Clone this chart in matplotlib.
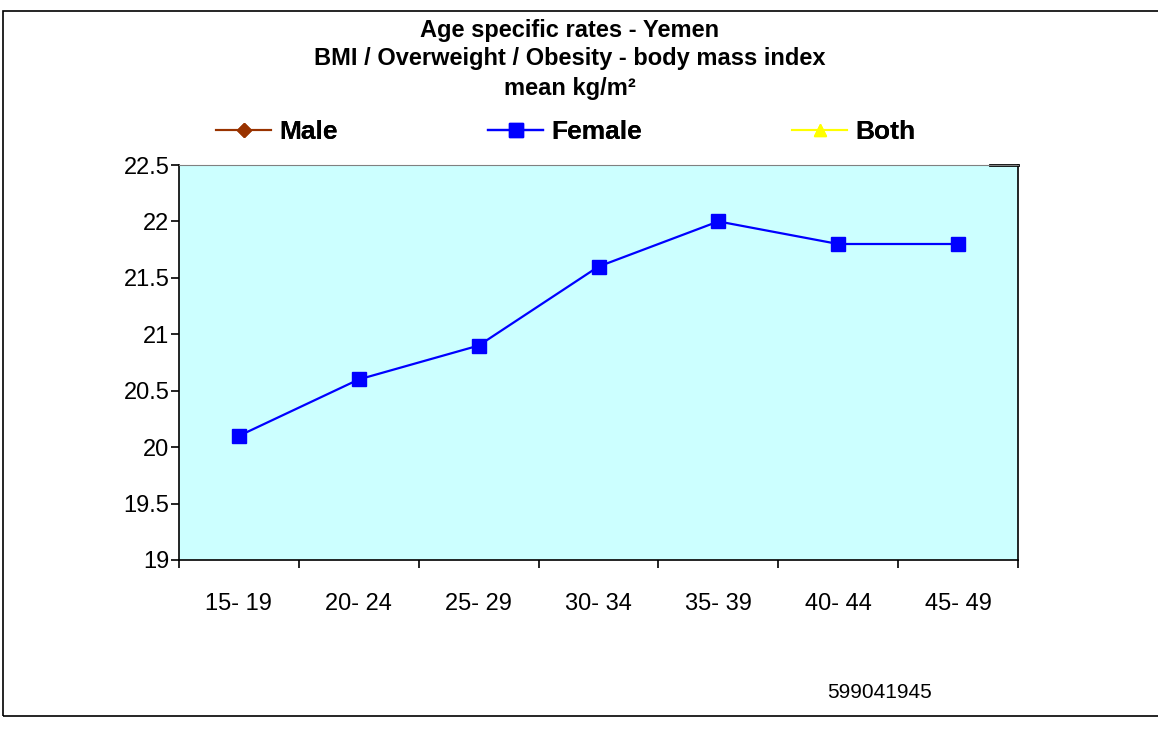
import matplotlib.pyplot as plt
from matplotlib.patches import Rectangle

plt.rcParams['font.family'] = ['Liberation Sans', 'DejaVu Sans']

# Daten
age_groups = ['15- 19', '20- 24', '25- 29', '30- 34', '35- 39', '40- 44', '45- 49']
female = [20.1, 20.6, 20.9, 21.6, 22.0, 21.8, 21.8]
male = []
both = []
y_ticks = [19, 19.5, 20, 20.5, 21, 21.5, 22, 22.5]
y_labels = ['19', '19.5', '20', '20.5', '21', '21.5', '22', '22.5']

W, H = 1158, 729
fig = plt.figure(figsize=(W / 100, H / 100), dpi=100)

# Rahmen um das ganze Bild
fig.add_artist(Rectangle((3 / W, 1 - 716 / H), 1.2, (716 - 11) / H,
                         transform=fig.transFigure, fill=False, edgecolor='black', lw=1.2))

ax = fig.add_axes([179 / W, 1 - 560 / H, (1018 - 179) / W, (560 - 165) / H])
ax.set_facecolor('#ccffff')

x = list(range(len(age_groups)))
h_male, = ax.plot(male, male, color='#993300', marker='D', markersize=7, lw=1.5, label='Male')
h_female, = ax.plot(x, female, color='#0000ff', marker='s', markersize=10, lw=1.6, label='Female')
h_both, = ax.plot(both, both, color='#ffff00', marker='^', markersize=9, lw=1.5, label='Both')

ax.set_xlim(-0.5, len(age_groups) - 0.5)
ax.set_ylim(19, 22.5)
ax.set_yticks(y_ticks)
ax.set_yticklabels(y_labels, fontsize=17)
ax.set_xticks([i - 0.5 for i in range(len(age_groups) + 1)])
ax.set_xticklabels([])
ax.set_xticks(x, minor=True)
ax.set_xticklabels(age_groups, minor=True, fontsize=17)
ax.tick_params(axis='x', which='minor', length=0, pad=24)
ax.tick_params(axis='x', which='major', length=6, direction='out', width=1.2)
ax.tick_params(axis='y', length=6, direction='out', width=1.2, pad=1)

ax.spines['top'].set_color('#808080')
for s in ['left', 'bottom', 'right']:
    ax.spines[s].set_linewidth(1.2)
# kleines schwarzes Stueck oben rechts
ax.axhline(22.5, xmin=0.967, xmax=1.0, color='black', lw=2, clip_on=False)

tx = 570 / W
fig.text(tx, 1 - 30 / H, 'Age specific rates - Yemen', ha='center', va='center',
         fontsize=17, fontweight='bold')
fig.text(tx, 1 - 59 / H, 'BMI / Overweight / Obesity - body mass index', ha='center',
         va='center', fontsize=17, fontweight='bold')
fig.text(tx, 1 - 88 / H, 'mean kg/m\u00b2', ha='center', va='center',
         fontsize=17, fontweight='bold')

# Legende: drei einzelne Eintraege
for h, lx in [(h_male, 216), (h_female, 488), (h_both, 792)]:
    lg = fig.legend(handles=[h], loc='center left', bbox_to_anchor=(lx / W, 1 - 132 / H),
                    frameon=False, prop={'size': 19, 'weight': 'bold'}, handlelength=2.1,
                    handletextpad=0.3, borderpad=0, borderaxespad=0)
    fig.add_artist(lg)

fig.text(880 / W, 1 - 692 / H, '599041945', ha='center', va='center', fontsize=15)

fig.savefig('out.png', dpi=100)
